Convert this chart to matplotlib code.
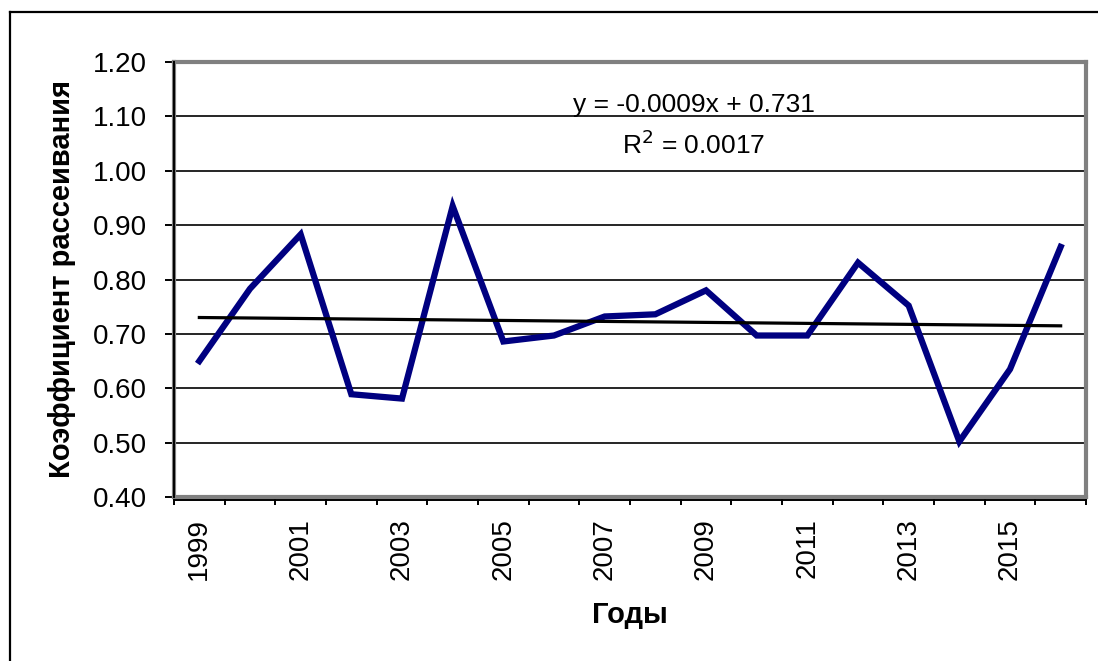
import matplotlib
matplotlib.use("Agg")
import matplotlib.pyplot as plt
from matplotlib.lines import Line2D
import numpy as np

years = [1999, 2000, 2001, 2002, 2003, 2004, 2005, 2006, 2007,
         2008, 2009, 2010, 2011, 2012, 2013, 2014, 2015, 2016]
coef = [0.650, 0.783, 0.883, 0.589, 0.581, 0.935, 0.686, 0.697, 0.732,
        0.736, 0.780, 0.697, 0.697, 0.831, 0.752, 0.502, 0.635, 0.860]
year_labels = ["1999", "2001", "2003", "2005", "2007", "2009", "2011", "2013", "2015"]

# excel linear trendline, x runs 1..n
trend_slope = -0.0009
trend_intercept = 0.731
eq_text = "y = -0.0009x + 0.731"
r2_text = "R$^2$ = 0.0017"

plt.rcParams['font.family'] = ['Liberation Sans', 'DejaVu Sans']

W, H = 1098, 661
fig = plt.figure(figsize=(W/100, H/100), dpi=100)
fig.patch.set_facecolor("white")

# outer chart frame (only left and top edges are inside the picture)
fig.add_artist(Line2D([10/W, 10/W], [0, 1 - 12/H], transform=fig.transFigure, color="black", lw=1.6))
fig.add_artist(Line2D([10/W, 1], [1 - 12/H, 1 - 12/H], transform=fig.transFigure, color="black", lw=1.6))

ax = fig.add_axes([174/W, (H-497)/H, 912/W, 435/H])

x = np.arange(len(years))
trend = trend_slope * (x + 1) + trend_intercept

ax.plot(x, coef, color="#000080", lw=4.5, solid_joinstyle="miter", zorder=3)
ax.plot(x, trend, color="black", lw=2.3, zorder=4)

ax.set_xlim(-0.5, len(years) - 0.5)
ax.set_ylim(0.40, 1.20)
ax.set_yticks(np.arange(0.40, 1.201, 0.10))
ax.yaxis.set_major_formatter(matplotlib.ticker.FormatStrFormatter("%.2f"))
ax.yaxis.grid(True, color="black", lw=1.2)
ax.set_axisbelow(True)

# category boundaries as ticks, year labels at category centres
ax.set_xticks(np.arange(-0.5, len(years), 1.0))
ax.set_xticklabels([])
ax.set_xticks(x[::2], minor=True)
ax.set_xticklabels(year_labels, minor=True, rotation=90)
ax.tick_params(axis="x", which="major", direction="out", length=6, width=1.4, color="black")
ax.tick_params(axis="x", which="minor", length=0, pad=15, labelsize=20)
ax.tick_params(axis="y", direction="out", length=6.5, width=1.4, pad=13, labelsize=20)

for s in ax.spines.values():
    s.set_color("#808080")
    s.set_linewidth(3)

# black axis lines on top of the grey border
ax.add_line(Line2D([0, 0], [0, 1], transform=ax.transAxes, color="black", lw=1.4, clip_on=False, zorder=5))
ax.add_line(Line2D([0, 1], [-2.5/435, -2.5/435], transform=ax.transAxes, color="black", lw=1.4, clip_on=False, zorder=5))

ax.set_ylabel("Коэффициент рассеивания", fontsize=21, fontweight="bold")
ax.yaxis.set_label_coords(-0.1228, 0.5)
ax.set_xlabel("Годы", fontsize=21, fontweight="bold")
ax.xaxis.set_label_coords(0.5, -0.271)
ax.xaxis.label.set_va("center")
ax.yaxis.label.set_va("center")

ax.text(0.570, 0.901, eq_text, transform=ax.transAxes, ha="center", va="center", fontsize=19)
ax.text(0.570, 0.809, r2_text, transform=ax.transAxes, ha="center", va="center", fontsize=19)

fig.savefig("out.png", dpi=100, facecolor="white")
